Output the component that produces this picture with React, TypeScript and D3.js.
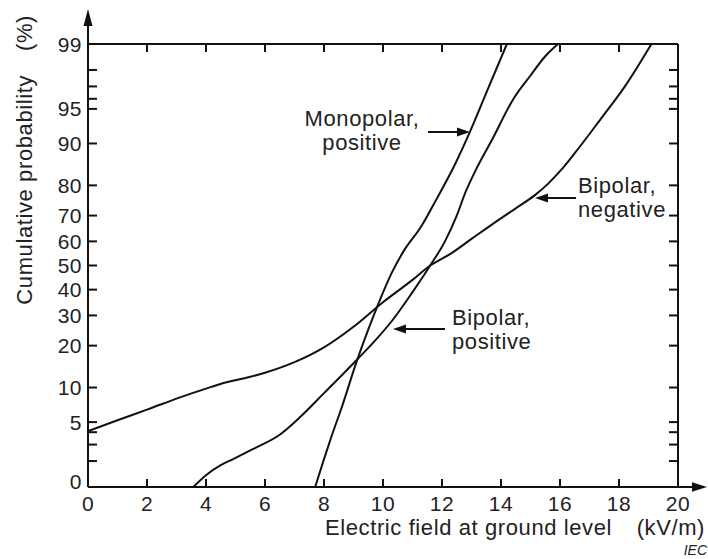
import React from "react";
import * as d3 from "d3";

// ---- data ----
const xTickValues = [0, 2, 4, 6, 8, 10, 12, 14, 16, 18, 20];
const yTickValues = [1, 5, 10, 20, 30, 40, 50, 60, 70, 80, 90, 95, 99];
const yTickLabels = ["0", "5", "10", "20", "30", "40", "50", "60", "70", "80", "90", "95", "99"];
const yMinorTicks = [2, 3, 4, 96, 97, 98];

const monopolarX = [7.7, 8.0, 8.25, 8.6, 9.1, 9.5, 9.9, 10.3, 10.7, 11.3, 11.82, 12.4, 12.95, 13.5, 14.2];
const monopolarP = [1, 2.1, 3.6, 6.8, 15.5, 25, 36, 47, 56, 66, 75.8, 85, 92, 96.5, 99];

const bipolarPosX = [3.57, 4.02, 4.5, 4.92, 5.6, 6.51, 7.2, 8.0, 9.1, 9.7, 10.3, 11.0, 11.6, 12.1, 12.5, 12.8, 13.2, 13.7, 14.4, 15.0, 15.5, 15.93];
const bipolarPosP = [1, 1.4, 1.8, 2.1, 2.7, 3.8, 5.6, 9, 16, 21.2, 28, 39, 50, 60, 70, 78, 85, 90.7, 95.9, 97.7, 98.6, 99];

const bipolarNegX = [0, 1, 2, 3.12, 4, 4.7, 5.3, 6, 7, 8, 9, 10, 11, 11.6, 12.3, 13, 13.97, 14.5, 15.15, 15.6, 16, 16.5, 17.36, 18.2, 19.1];
const bipolarNegP = [4.1, 5.2, 6.5, 8.3, 9.8, 11, 11.8, 13, 15.5, 19.5, 26, 35, 44, 50, 55, 61, 68.8, 72.6, 77, 80.5, 83.9, 88.1, 93.7, 97, 99];

// ---- inverse normal CDF (Acklam) ----
function invNorm(p: number): number {
  const a = [-3.969683028665376e1, 2.209460984245205e2, -2.759285104469687e2, 1.38357751867269e2, -3.066479806614716e1, 2.506628277459239];
  const b = [-5.447609879822406e1, 1.615858368580409e2, -1.556989798598866e2, 6.680131188771972e1, -1.328068155288572e1];
  const c = [-7.784894002430293e-3, -3.223964580411365e-1, -2.400758277161838, -2.549732539343734, 4.374664141464968, 2.938163982698783];
  const d = [7.784695709041462e-3, 3.224671290700398e-1, 2.445134137142996, 3.754408661907416];
  const plow = 0.02425;
  if (p < plow) {
    const q = Math.sqrt(-2 * Math.log(p));
    return (((((c[0] * q + c[1]) * q + c[2]) * q + c[3]) * q + c[4]) * q + c[5]) / ((((d[0] * q + d[1]) * q + d[2]) * q + d[3]) * q + 1);
  } else if (p <= 1 - plow) {
    const q = p - 0.5;
    const r = q * q;
    return ((((((a[0] * r + a[1]) * r + a[2]) * r + a[3]) * r + a[4]) * r + a[5]) * q) / (((((b[0] * r + b[1]) * r + b[2]) * r + b[3]) * r + b[4]) * r + 1);
  }
  const q = Math.sqrt(-2 * Math.log(1 - p));
  return -(((((c[0] * q + c[1]) * q + c[2]) * q + c[3]) * q + c[4]) * q + c[5]) / ((((d[0] * q + d[1]) * q + d[2]) * q + d[3]) * q + 1);
}
const zOf = (p: number) => invNorm(p / 100);

const W = 708;
const H = 559;
const left = 88, right = 678, top = 44, bottom = 487;

export default function App() {
  const x = d3.scaleLinear().domain([0, 20]).range([left, right]);
  const y = d3.scaleLinear().domain([zOf(1), zOf(99)]).range([bottom, top]);
  const yp = (p: number) => y(zOf(p));
  const line = d3
    .line<[number, number]>()
    .x((d) => x(d[0]))
    .y((d) => yp(d[1]))
    .curve(d3.curveMonotoneX);
  const zip = (xs: number[], ps: number[]) => xs.map((v, i) => [v, ps[i]] as [number, number]);
  const series = [zip(monopolarX, monopolarP), zip(bipolarPosX, bipolarPosP), zip(bipolarNegX, bipolarNegP)];
  const font = "'Liberation Sans', Arial, Helvetica, sans-serif";
  const txt = "#222";
  const tl = 9;
  const allY = [...yTickValues, ...yMinorTicks];

  const arrowHead = (tx: number, ty: number, dir: number) =>
    `M${tx},${ty} L${tx - dir * 13},${ty - 4.5} L${tx - dir * 13},${ty + 4.5} Z`;

  return (
    <svg width={W} height={H} style={{ position: "absolute", left: 0, top: 0, background: "#fff" }} fontFamily={font}>
      <rect x={0} y={0} width={W} height={H} fill="#fff" />
      {/* frame */}
      <g stroke="#111" strokeWidth={2} fill="none">
        <line x1={left} y1={bottom} x2={left} y2={20} />
        <line x1={left} y1={top} x2={right} y2={top} />
        <line x1={right} y1={top} x2={right} y2={bottom} />
        <line x1={left} y1={bottom} x2={696} y2={bottom} />
      </g>
      <path d={`M${left},9 L${left - 4.5},26 L${left + 4.5},26 Z`} fill="#111" />
      <path d={`M707,${bottom} L692,${bottom - 4.7} L692,${bottom + 4.7} Z`} fill="#111" />
      {/* ticks */}
      <g stroke="#111" strokeWidth={2}>
        {allY.map((p) => (
          <g key={"yt" + p}>
            <line x1={left} x2={left + tl} y1={yp(p)} y2={yp(p)} />
            <line x1={right} x2={right - tl} y1={yp(p)} y2={yp(p)} />
          </g>
        ))}
        {xTickValues.slice(1, -1).map((v) => (
          <g key={"xt" + v}>
            <line x1={x(v)} x2={x(v)} y1={bottom} y2={bottom - 8} />
            <line x1={x(v)} x2={x(v)} y1={top} y2={top + 8} />
          </g>
        ))}
      </g>
      {/* tick labels */}
      <g fill={txt} fontSize={21} letterSpacing={0.5}>
        {yTickValues.map((p, i) => (
          <text key={"yl" + p} x={82} y={yp(p) + 7.5 - (p === 1 ? 6 : 0)} textAnchor="end">
            {yTickLabels[i]}
          </text>
        ))}
        {xTickValues.map((v) => (
          <text key={"xl" + v} x={x(v)} y={511} textAnchor="middle">
            {v}
          </text>
        ))}
      </g>
      {/* axis titles */}
      <g fill={txt} fontSize={22} letterSpacing={0.6}>
        <text x={325} y={535}>Electric field at ground level</text>
        <text x={705} y={535} textAnchor="end">(kV/m)</text>
        <text transform="translate(32,75) rotate(-90)" textAnchor="end">Cumulative probability</text>
        <text transform="translate(32,15) rotate(-90)" textAnchor="end">(%)</text>
      </g>
      <text x={707} y={555} textAnchor="end" fontSize={14} fontStyle="italic" fill={txt}>IEC</text>
      {/* curves */}
      <g fill="none" stroke="#111" strokeWidth={2}>
        {series.map((s, i) => (
          <path key={"s" + i} d={line(s) || ""} />
        ))}
      </g>
      {/* annotations */}
      <g stroke="#111" strokeWidth={2}>
        <line x1={428} y1={132} x2={460} y2={132} />
        <line x1={576} y1={198} x2={545} y2={198} />
        <line x1={445} y1={329} x2={403} y2={329} />
      </g>
      <g fill="#111">
        <path d={arrowHead(470, 132, 1)} />
        <path d={arrowHead(535, 198, -1)} />
        <path d={arrowHead(393, 329, -1)} />
      </g>
      <g fill={txt} fontSize={22} letterSpacing={0.6}>
        <text x={362} y={126} textAnchor="middle">Monopolar,</text>
        <text x={362} y={150} textAnchor="middle">positive</text>
        <text x={578} y={193}>Bipolar,</text>
        <text x={578} y={217}>negative</text>
        <text x={452} y={325}>Bipolar,</text>
        <text x={452} y={349}>positive</text>
      </g>
    </svg>
  );
}
